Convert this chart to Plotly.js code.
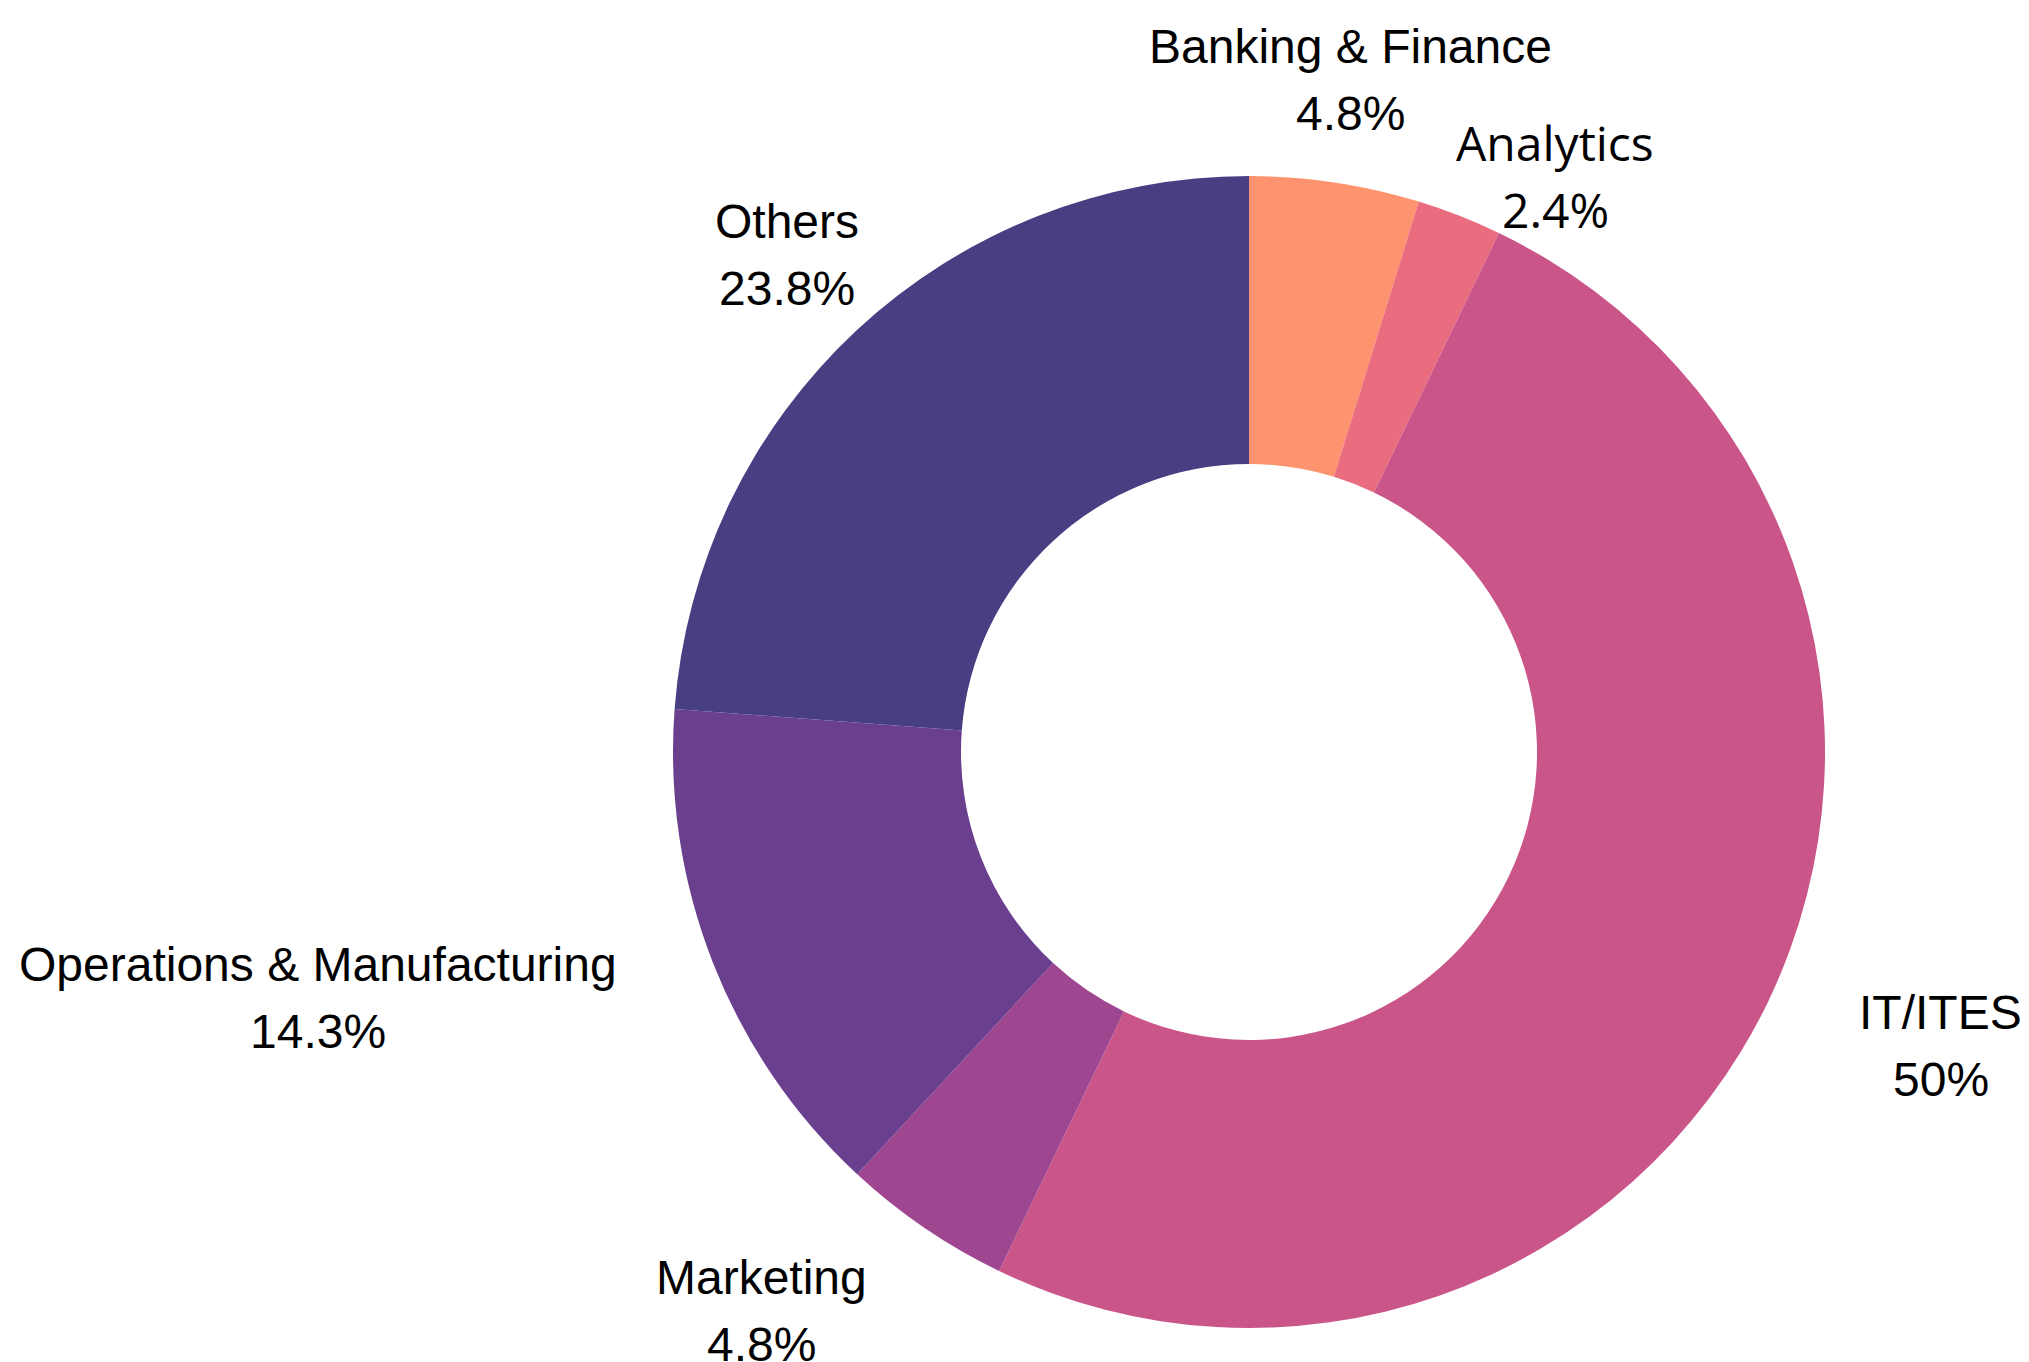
<!DOCTYPE html>
<html>
<head>
<meta charset="utf-8">
<script src="https://cdn.plot.ly/plotly-3.0.1.min.js"></script>
<style>html,body{margin:0;padding:0;background:#fff;}#chart{width:2029px;height:1362px;}</style>
</head>
<body>
<div id="chart"></div>
<script>
const categories = ["Banking & Finance", "Analytics", "IT/ITES", "Marketing", "Operations & Manufacturing", "Others"];
const counts = [2, 1, 21, 2, 6, 10];
const colors = ["#FE9370", "#E96D7F", "#CA5689", "#9E4690", "#6A3F8E", "#473F82"];
const fonts = ["Liberation Sans", "Open Sans", "Liberation Sans", "Liberation Sans", "Liberation Sans", "Liberation Sans"];

// label placement (layout only): radial distance as a multiple of the outer radius, angular nudge in degrees
const labelDist = [1.179, 1.132, 1.305, 1.287, 1.672, 1.178];
const labelNudge = [0, 6.6, -2.7, 6.8, 6.6, 0];

const W = 2029, H = 1362;
const cx = 1249, cy = 752, r = 576;
const mt = 176, mb = 34;
const plotH = H - mt - mb;
const fontSize = 48;
const lineGap = 67;

const total = counts.reduce((a, b) => a + b, 0);
const annotations = [];
let cum = 0;
counts.forEach((v, i) => {
  const mid = (cum + v / 2) / total * 360 + labelNudge[i];
  cum += v;
  const th = mid * Math.PI / 180;
  const d = labelDist[i] * r;
  const px = cx + d * Math.sin(th);
  const py = cy - d * Math.cos(th);
  const pct = String(Number((v / total * 100).toFixed(1))) + '%';
  const lines = [categories[i], pct];
  lines.forEach((t, k) => {
    const ly = py + (k === 0 ? -lineGap / 2 : lineGap / 2);
    annotations.push({
      xref: 'paper', yref: 'paper',
      x: px / W, y: (H - mb - ly) / plotH,
      xanchor: 'center', yanchor: 'middle',
      text: t, showarrow: false,
      font: {size: fontSize, color: '#000', family: fonts[i]}
    });
  });
});

Plotly.newPlot('chart', [{
  type: 'pie',
  labels: categories,
  values: counts,
  hole: 0.5,
  sort: false,
  direction: 'clockwise',
  rotation: 0,
  textinfo: 'none',
  marker: {colors: colors, line: {width: 0}},
  domain: {x: [(cx - r) / W, (cx + r) / W], y: [0, 1]},
  showlegend: false,
  hoverinfo: 'label+percent'
}], {
  width: W, height: H,
  margin: {l: 0, r: 0, t: mt, b: mb},
  paper_bgcolor: '#fff',
  showlegend: false,
  annotations: annotations
}, {displayModeBar: false});
</script>
</body>
</html>
